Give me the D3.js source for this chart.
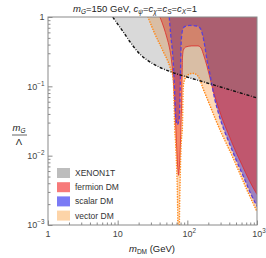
<!DOCTYPE html>
<html><head><meta charset="utf-8">
<script src="https://cdn.jsdelivr.net/npm/d3@7"></script>
<style>body{margin:0;background:#fff}svg{display:block;font-family:"Liberation Sans",Arial,sans-serif}</style>
</head><body>
<svg id="c" width="266" height="258"></svg>
<script>
// XENON1T exclusion boundary (excluded above)
const xenonMass=[8.5,10,12.3,15,21,29,40,56,110,210,410,1000];
const xenonLimit=[1,0.79,0.59,0.44,0.29,0.225,0.188,0.164,0.132,0.109,0.089,0.068];
// fermion DM boundary
const fermionMass=[40.4,46.2,51,55.4,59.1,62.1,65.3,67.5,70.5,72.8,74.8,76.8,79.1,81.5,83.1,84.2,85.1,87.9,95.5,116,142,157,173,191,211,233,266,314,382,482,607,765,1000];
const fermionCoupling=[1,0.695,0.499,0.358,0.241,0.146,0.064,0.033,0.0122,0.0067,0.0052,0.0067,0.0122,0.033,0.064,0.146,0.257,0.335,0.370,0.383,0.383,0.358,0.275,0.197,0.133,0.089,0.058,0.035,0.0214,0.0122,0.0074,0.0045,0.00275];
// scalar DM boundary
const scalarMass=[55,57.6,61.5,64.2,66.4,68.2,72.3,76.5,78.3,79.6,80.9,82.8,86.5,92.4,109,136,152,167,179,191,208,225,249,284,335,409,498,628,791,1000];
const scalarCoupling=[1,0.569,0.294,0.151,0.064,0.035,0.028,0.035,0.064,0.142,0.335,0.533,0.672,0.730,0.755,0.742,0.695,0.533,0.370,0.241,0.162,0.105,0.064,0.039,0.0237,0.0144,0.0088,0.0052,0.0030,0.00185];
// vector DM boundary
const vectorMass=[27.2,34.3,44.7,56.3,62.8,64.2,65.3,68.6,72.3,74,76,77.8,81,85.6,86.5,87.9,92.4,102,120,137,152,167,191,218,249,294,358,451,569,740,1000];
const vectorCoupling=[1,0.569,0.324,0.191,0.128,0.064,0.033,0.0122,0.0023,0.0006,0.0006,0.0023,0.0122,0.033,0.064,0.105,0.128,0.146,0.154,0.146,0.124,0.095,0.068,0.049,0.035,0.0237,0.0154,0.0094,0.0055,0.0030,0.00156];
// ticks
const xMajor=[1,10,100,1000];
const xTickBase=["1","10","10","10"];
const xTickExp=["","","2","3"];
const yMajor=[1,0.1,0.01,0.001];
const yTickBase=["1","10","10","10"];
const yTickExp=["","\u22121","\u22122","\u22123"];
const legendLabels=["XENON1T","fermion DM","scalar DM","vector DM"];
const legendColors=["#bdbdbd","#f77a7a","#7a7af5","#fdd4a8"];

const svg=d3.select("#c");
const L=48,R=257,T=17,B=225;
const x=d3.scaleLog().domain([1,1000]).range([L,R]);
const y=d3.scaleLog().domain([0.001,1]).range([B,T]);

svg.append("clipPath").attr("id","clip").append("rect")
  .attr("x",L).attr("y",T).attr("width",R-L).attr("height",B-T);
const plot=svg.append("g").attr("clip-path","url(#clip)");

function areaPath(ms,cs){
  return d3.area().x((d,i)=>x(ms[i])).y0(T-6).y1((d,i)=>y(cs[i])).curve(d3.curveMonotoneX)(ms);
}
function linePath(ms,cs){
  return d3.line().x((d,i)=>x(ms[i])).y((d,i)=>y(cs[i])).curve(d3.curveMonotoneX)(ms);
}
plot.append("path").attr("d",areaPath(vectorMass,vectorCoupling)).attr("fill","rgb(255,150,50)").attr("fill-opacity",0.35);
plot.append("path").attr("d",areaPath(scalarMass,scalarCoupling)).attr("fill","rgb(60,40,200)").attr("fill-opacity",0.5);
plot.append("path").attr("d",areaPath(fermionMass,fermionCoupling)).attr("fill","rgb(235,35,10)").attr("fill-opacity",0.45);
plot.append("path").attr("d",areaPath(xenonMass,xenonLimit)).attr("fill","rgb(120,120,120)").attr("fill-opacity",0.28);

plot.append("path").attr("d",linePath(fermionMass,fermionCoupling)).attr("fill","none").attr("stroke","#dd2a2a").attr("stroke-width",0.8);
plot.append("path").attr("d",linePath(vectorMass,vectorCoupling)).attr("fill","none").attr("stroke","#ff8a1c").attr("stroke-width",1.6).attr("stroke-dasharray","0.01,2.6").attr("stroke-linecap","round");
plot.append("path").attr("d",linePath(scalarMass,scalarCoupling)).attr("fill","none").attr("stroke","#5b3fd8").attr("stroke-width",1.3).attr("stroke-dasharray","3.5,2.2");
plot.append("path").attr("d",linePath(xenonMass,xenonLimit)).attr("fill","none").attr("stroke","#111").attr("stroke-width",1.4).attr("stroke-dasharray","3,1.6,0.8,1.6");

// frame
svg.append("rect").attr("x",L).attr("y",T).attr("width",R-L).attr("height",B-T)
  .attr("fill","none").attr("stroke","#8a8a8a").attr("stroke-width",1);

function minorTicks(lo,hi){const a=[];for(let e=lo;e<hi;e++)for(let k=2;k<=9;k++)a.push(k*Math.pow(10,e));return a;}
const tickColor="#8a8a8a", labColor="#444";

// left axis
const gy=svg.append("g").attr("transform",`translate(${L},0)`);
gy.call(d3.axisLeft(y).tickValues(yMajor).tickSize(-4.5).tickPadding(3).tickFormat(""));
const gym=svg.append("g").attr("transform",`translate(${L},0)`);
gym.call(d3.axisLeft(y).tickValues(minorTicks(-3,0)).tickSize(-2.5).tickFormat(""));
// bottom axis
const gx=svg.append("g").attr("transform",`translate(0,${B})`);
gx.call(d3.axisBottom(x).tickValues(xMajor).tickSize(-4.5).tickFormat(""));
const gxm=svg.append("g").attr("transform",`translate(0,${B})`);
gxm.call(d3.axisBottom(x).tickValues(minorTicks(0,3)).tickSize(-2.5).tickFormat(""));
svg.selectAll(".domain").remove();
svg.selectAll(".tick line").attr("stroke",tickColor);

// tick labels
yMajor.forEach((v,i)=>{
  const t=svg.append("text").attr("x",L-3.5).attr("y",y(v)+3.2).attr("text-anchor","end")
    .attr("font-size",9).attr("fill",labColor);
  t.append("tspan").text(yTickBase[i]);
  if(yTickExp[i]) t.append("tspan").attr("font-size",6.3).attr("dy",-3.8).text(yTickExp[i]);
});
xMajor.forEach((v,i)=>{
  const t=svg.append("text").attr("x",x(v)+(xTickExp[i]?2:0)).attr("y",B+12).attr("text-anchor","middle")
    .attr("font-size",9).attr("fill",labColor);
  t.append("tspan").text(xTickBase[i]);
  if(xTickExp[i]) t.append("tspan").attr("font-size",6.3).attr("dy",-3.8).text(xTickExp[i]);
});

// title
const title=svg.append("text").attr("x",135).attr("y",12).attr("text-anchor","middle").attr("font-size",9.5).attr("fill","#222");
title.append("tspan").attr("font-style","italic").text("m");
title.append("tspan").attr("font-style","italic").attr("font-size",6.5).attr("dy",2).text("G");
title.append("tspan").attr("dy",-2).text("=150 GeV, ");
[["\u03C8","="],["\u03C7","="],["S","="],["X","=1"]].forEach(([s,tail])=>{
  title.append("tspan").attr("font-style","italic").text("c");
  title.append("tspan").attr("font-style","italic").attr("font-size",6.5).attr("dy",2).text(s);
  title.append("tspan").attr("dy",-2).text(tail);
});

// x label
const xl=svg.append("text").attr("x",152).attr("y",252).attr("text-anchor","middle").attr("font-size",9.5).attr("fill","#222");
xl.append("tspan").attr("font-style","italic").text("m");
xl.append("tspan").attr("font-size",6.5).attr("dy",2).text("DM");
xl.append("tspan").attr("dy",-2).text(" (GeV)");

// y label fraction
const yl=svg.append("text").attr("x",19).attr("y",131).attr("text-anchor","middle").attr("font-size",9.5).attr("fill","#222");
yl.append("tspan").attr("font-style","italic").text("m");
yl.append("tspan").attr("font-style","italic").attr("font-size",6.5).attr("dy",2).text("G");
svg.append("line").attr("x1",12).attr("x2",27).attr("y1",135).attr("y2",135).attr("stroke","#222").attr("stroke-width",0.7);
svg.append("text").attr("x",19).attr("y",145).attr("text-anchor","middle").attr("font-size",9.5).attr("fill","#222").text("\u039B");

// legend
const lg=svg.append("g");
legendLabels.forEach((lab,i)=>{
  const cy=173+i*14.2;
  lg.append("rect").attr("x",57).attr("y",cy-5).attr("width",13).attr("height",10).attr("fill",legendColors[i]);
  lg.append("text").attr("x",75).attr("y",cy+3).attr("font-size",8.5).attr("fill","#333").text(lab);
});
</script>
</body></html>
